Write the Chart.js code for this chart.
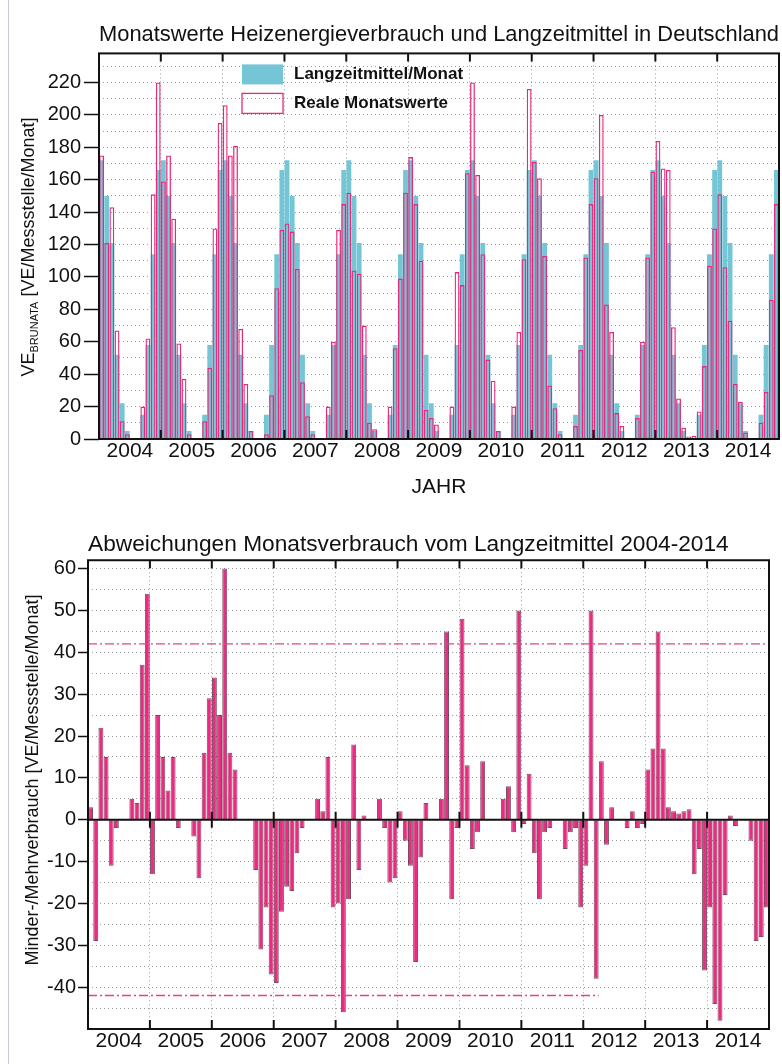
<!DOCTYPE html>
<html lang="de">
<head>
<meta charset="utf-8">
<title>Heizenergieverbrauch Deutschland 2004-2014</title>
<script src="https://cdn.jsdelivr.net/npm/chart.js@4.4.1/dist/chart.umd.min.js"></script>
<style>
  html, body { margin: 0; padding: 0; background: #fff; }
  body { width: 782px; height: 1064px; position: relative; overflow: hidden; }
  .rand { position: absolute; left: 8px; top: 0; width: 1px; height: 1064px; background: #c6cad2; }
  #chartMonat { position: absolute; left: 0; top: 0; }
  #chartAbw { position: absolute; left: 0; top: 520px; }
</style>
</head>
<body>
<div class="rand"></div>
<canvas id="chartMonat" width="782" height="520"></canvas>
<canvas id="chartAbw" width="782" height="544"></canvas>
<script>
// Daten
const jahre = ['2004', '2005', '2006', '2007', '2008', '2009', '2010', '2011', '2012', '2013', '2014'];
const monate = ['Jan', 'Feb', 'Mär', 'Apr', 'Mai', 'Jun', 'Jul', 'Aug', 'Sep', 'Okt', 'Nov', 'Dez'];

// Langzeitmittel je Monat (gleich fuer jedes Jahr)
const langzeitmittel = [172, 150, 121, 52, 22, 5, 0, 0, 15, 58, 114, 166];

// Reale Monatswerte Jan 2004 - Dez 2014
const realeWerte = [
    175, 121, 143, 67, 11, 3, 0, 0, 20, 62, 151, 220,     // 2004
    159, 175, 136, 59, 37, 3, 0, 0, 11, 44, 130, 195,     // 2005
    206, 175, 181, 68, 34, 5, 0, 0, 3, 27, 93, 129,       // 2006
    133, 128, 105, 35, 14, 3, 0, 0, 20, 60, 129, 145,     // 2007
    152, 104, 102, 70, 10, 6, 0, 0, 20, 56, 99, 152,      // 2008
    174, 145, 110, 18, 13, 9, 0, 0, 20, 103, 95, 164,     // 2009
    220, 163, 114, 49, 36, 5, 0, 0, 20, 66, 111, 216,     // 2010
    171, 161, 113, 33, 19, 3, 0, 0, 8, 55, 112, 145,      // 2011
    161, 200, 83, 66, 16, 8, 0, 0, 13, 60, 112, 165,      // 2012
    184, 167, 166, 69, 25, 7, 1.5, 2, 17, 45, 107, 130,   // 2013
    151, 106, 73, 34, 23, 4, 0, 0, 10, 29, 86, 145        // 2014
];

// Abweichung vom Langzeitmittel
const abweichung = [
    3, -29, 22, 15, -11, -2, 0, 0, 5, 4, 37, 54,          // 2004
    -13, 25, 15, 7, 15, -2, 0, 0, -4, -14, 16, 29,        // 2005
    34, 25, 60, 16, 12, 0, 0, 0, -12, -31, -21, -37,      // 2006
    -39, -22, -16, -17, -8, -2, 0, 0, 5, 2, 15, -21,      // 2007
    -20, -46, -19, 18, -12, 1, 0, 0, 5, -2, -15, -14,     // 2008
    2, -5, -11, -34, -9, 4, 0, 0, 5, 45, -19, -2,         // 2009
    48, 13, -7, -3, 14, 0, 0, 0, 5, 8, -3, 50,            // 2010
    -1, 11, -8, -19, -3, -2, 0, 0, -7, -3, -2, -21,       // 2011
    -11, 50, -38, 14, -6, 3, 0, 0, -2, 2, -2, -1,         // 2012
    12, 17, 45, 17, 3, 2, 1.5, 2, 2.5, -13, -7, -36,      // 2013
    -21, -44, -48, -18, 1, -1.5, 0, 0, -5, -29, -28, -21  // 2014
];

const yTicksOben = [0, 20, 40, 60, 80, 100, 120, 140, 160, 180, 200, 220];
const yTicksUnten = [-40, -30, -20, -10, 0, 10, 20, 30, 40, 50, 60];
const schwelle = 42;

const kategorien = jahre.flatMap(j => monate.map(m => m + ' ' + j));
const mittelReihe = jahre.flatMap(() => langzeitmittel);

const schrift = "'Liberation Sans', Arial, sans-serif";
Chart.defaults.font.family = schrift;
Chart.defaults.color = '#111';

function jahresGrenze(x, i) {
    const halb = (x.getPixelForValue(1) - x.getPixelForValue(0)) / 2;
    return x.getPixelForValue(i) - halb;
}

// Rahmen, Jahresstriche, Nulllinie, Grenzlinien
const rahmenPlugin = {
    id: 'rahmen',
    afterDatasetsDraw(chart, args, opts) {
        const { ctx, chartArea: a, scales: { x, y } } = chart;
        ctx.save();
        (opts.linien || []).forEach(l => {
            const py = y.getPixelForValue(l.wert);
            const ende = l.bis != null ? jahresGrenze(x, l.bis) : a.right;
            ctx.strokeStyle = '#e6408c';
            ctx.lineWidth = 1.3;
            ctx.setLineDash([9, 3, 2, 3]);
            ctx.beginPath();
            ctx.moveTo(a.left, py);
            ctx.lineTo(ende, py);
            ctx.stroke();
        });
        ctx.setLineDash([]);
        ctx.strokeStyle = '#111';
        ctx.lineWidth = 2;
        const y0 = y.getPixelForValue(0);
        if (opts.nullLinie) {
            ctx.beginPath();
            ctx.moveTo(a.left, y0);
            ctx.lineTo(a.right, y0);
            ctx.stroke();
        }
        for (let i = 12; i < kategorien.length; i += 12) {
            const bx = jahresGrenze(x, i);
            ctx.beginPath();
            ctx.moveTo(bx, a.bottom);
            ctx.lineTo(bx, a.bottom - 9);
            ctx.moveTo(bx, a.top);
            ctx.lineTo(bx, a.top + 8);
            if (opts.nullLinie) {
                ctx.moveTo(bx, y0 - 8);
                ctx.lineTo(bx, y0 + 8);
            }
            ctx.stroke();
        }
        ctx.strokeRect(a.left, a.top, a.right - a.left, a.bottom - a.top);
        ctx.restore();
    }
};

// Legende innerhalb der Zeichenflaeche
const legendePlugin = {
    id: 'legende',
    afterDatasetsDraw(chart, args, opts) {
        const { ctx, chartArea: a } = chart;
        ctx.save();
        chart.data.datasets.forEach((ds, i) => {
            const bx = a.left + opts.x;
            const by = a.top + opts.y + i * opts.zeile;
            ctx.fillStyle = ds.backgroundColor;
            ctx.fillRect(bx, by, opts.breite, opts.hoehe);
            if (ds.borderWidth) {
                ctx.strokeStyle = ds.borderColor;
                ctx.lineWidth = ds.borderWidth;
                ctx.strokeRect(bx, by, opts.breite, opts.hoehe);
            }
            ctx.fillStyle = '#111';
            ctx.font = 'bold 17px ' + schrift;
            ctx.textBaseline = 'middle';
            ctx.fillText(ds.label, bx + opts.breite + 11, by + opts.hoehe / 2);
        });
        ctx.restore();
    }
};

// gedrehte Achsenbeschriftung mit Tiefstellung
const yTitelPlugin = {
    id: 'yTitel',
    afterDraw(chart, args, opts) {
        const { ctx } = chart;
        ctx.save();
        ctx.translate(opts.x, opts.y);
        ctx.rotate(-Math.PI / 2);
        ctx.fillStyle = '#111';
        ctx.textBaseline = 'alphabetic';
        let gesamt = 0;
        const teile = opts.teile.map(t => {
            ctx.font = t.size + 'px ' + schrift;
            const w = ctx.measureText(t.text).width;
            gesamt += w;
            return Object.assign({ w }, t);
        });
        let pos = -gesamt / 2;
        teile.forEach(t => {
            ctx.font = t.size + 'px ' + schrift;
            ctx.fillText(t.text, pos, t.shift || 0);
            pos += t.w;
        });
        ctx.restore();
    }
};

function xAchse(hoehe, titel) {
    return {
        stacked: true,
        offset: true,
        afterFit: s => { s.height = hoehe; },
        grid: {
            offset: true,
            drawTicks: false,
            lineWidth: 1,
            color: c => (c.index % 12 === 0 ? 'rgba(90, 90, 90, 0.6)' : 'transparent')
        },
        border: { display: false, dash: [1, 3] },
        ticks: {
            autoSkip: false,
            maxRotation: 0,
            minRotation: 0,
            padding: 0,
            labelOffset: -2.6,
            font: { size: 21 },
            color: '#111',
            callback: (v, i) => (i % 12 === 6 ? jahre[Math.floor(i / 12)] : '')
        },
        title: titel
    };
}

// Monatswerte
new Chart(document.getElementById('chartMonat'), {
    type: 'bar',
    data: {
        labels: kategorien,
        datasets: [
            {
                label: 'Langzeitmittel/Monat',
                data: mittelReihe,
                backgroundColor: '#74c6d6',
                borderWidth: 0,
                barPercentage: 1,
                categoryPercentage: 0.94,
                order: 2
            },
            {
                label: 'Reale Monatswerte',
                data: realeWerte,
                backgroundColor: 'transparent',
                borderColor: '#e62a7b',
                borderWidth: 1.3,
                barPercentage: 1,
                categoryPercentage: 0.94,
                order: 1
            }
        ]
    },
    options: {
        responsive: false,
        devicePixelRatio: 1,
        animation: false,
        events: [],
        layout: { padding: { left: 0, right: 3, top: 0, bottom: 0 } },
        plugins: {
            legend: { display: false },
            tooltip: { enabled: false },
            title: {
                display: true,
                text: 'Monatswerte Heizenergieverbrauch und Langzeitmittel in Deutschland',
                fullSize: false,
                color: '#111',
                font: { size: 22, weight: 'normal' },
                padding: { top: 22, bottom: 5 }
            },
            rahmen: {},
            legende: { x: 143, y: 11, zeile: 29, breite: 41, hoehe: 20 },
            yTitel: {
                x: 34, y: 247,
                teile: [
                    { text: 'VE', size: 18 },
                    { text: 'BRUNATA', size: 11, shift: 4 },
                    { text: ' [VE/Messstelle/Monat]', size: 18 }
                ]
            }
        },
        scales: {
            x: xAchse(81, {
                display: true,
                text: 'JAHR',
                color: '#111',
                font: { size: 21 },
                padding: { top: 0, bottom: 20 }
            }),
            y: {
                min: 0,
                max: 238,
                afterFit: s => { s.width = 99; },
                grid: {
                    color: 'rgba(90, 90, 90, 0.6)',
                    lineWidth: 1,
                    tickLength: 15,
                    tickWidth: 1.5,
                    tickColor: c => (yTicksOben.includes(c.tick.value) ? '#111' : 'transparent')
                },
                border: { display: false, dash: [1, 3] },
                ticks: {
                    stepSize: 10,
                    includeBounds: false,
                    autoSkip: false,
                    padding: 3,
                    font: { size: 20 },
                    color: '#111',
                    callback: v => (yTicksOben.includes(v) ? String(v) : '')
                }
            }
        }
    },
    plugins: [rahmenPlugin, legendePlugin, yTitelPlugin]
});

// Abweichungen
new Chart(document.getElementById('chartAbw'), {
    type: 'bar',
    data: {
        labels: kategorien,
        datasets: [
            {
                label: 'Abweichung',
                data: abweichung,
                backgroundColor: '#e92b83',
                borderColor: 'rgba(70, 0, 25, 0.7)',
                borderWidth: 1,
                barPercentage: 1,
                categoryPercentage: 0.95
            }
        ]
    },
    options: {
        responsive: false,
        devicePixelRatio: 1,
        animation: false,
        events: [],
        layout: { padding: { left: 0, right: 13, top: 0, bottom: 0 } },
        plugins: {
            legend: { display: false },
            tooltip: { enabled: false },
            title: {
                display: true,
                text: 'Abweichungen Monatsverbrauch vom Langzeitmittel 2004-2014',
                fullSize: false,
                align: 'start',
                color: '#111',
                font: { size: 22.7, weight: 'normal' },
                padding: { top: 11, bottom: 2 }
            },
            rahmen: {
                nullLinie: true,
                linien: [
                    { wert: schwelle },
                    { wert: -schwelle, bis: 99 }
                ]
            },
            yTitel: {
                x: 38, y: 260,
                teile: [{ text: 'Minder-/Mehrverbrauch [VE/Messstelle/Monat]', size: 18 }]
            }
        },
        scales: {
            x: xAchse(35, { display: false }),
            y: {
                min: -50,
                max: 62,
                afterFit: s => { s.width = 88; },
                grid: {
                    color: 'rgba(90, 90, 90, 0.6)',
                    lineWidth: 1,
                    tickLength: 10,
                    tickWidth: 1.5,
                    tickColor: c => (yTicksUnten.includes(c.tick.value) ? '#111' : 'transparent')
                },
                border: { display: false, dash: [1, 3] },
                ticks: {
                    stepSize: 5,
                    includeBounds: false,
                    autoSkip: false,
                    padding: 2,
                    font: { size: 20 },
                    color: '#111',
                    callback: v => (yTicksUnten.includes(v) ? String(v) : '')
                }
            }
        }
    },
    plugins: [rahmenPlugin, yTitelPlugin]
});
</script>
</body>
</html>
